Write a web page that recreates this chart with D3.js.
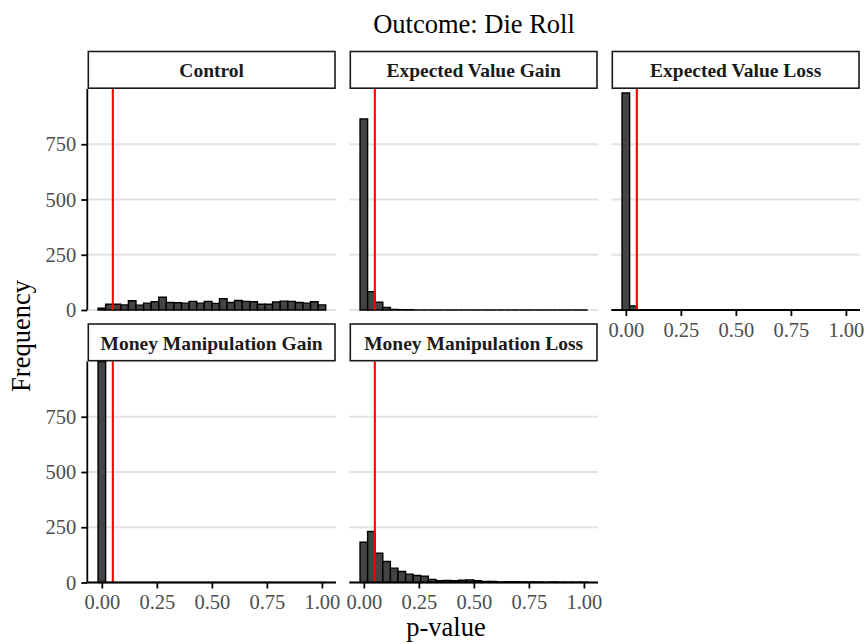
<!DOCTYPE html>
<html>
<head>
<meta charset="utf-8">
<script src="https://cdn.jsdelivr.net/npm/d3@7"></script>
<style>
  html, body { margin: 0; padding: 0; background: #ffffff; }
  svg { display: block; }
  text { font-family: "Liberation Serif", "Times New Roman", serif; }
</style>
</head>
<body>
<svg id="chart" width="868" height="644"></svg>
<script>
// Histogram of simulated p-values, one facet per treatment arm.
const chartTitle = "Outcome: Die Roll";
const xTitle = "p-value";
const yTitle = "Frequency";

const panelNames = [
  "Control",
  "Expected Value Gain",
  "Expected Value Loss",
  "Money Manipulation Gain",
  "Money Manipulation Loss"
];

// 30 bins of width 1/29, centred on k/29 (k = 0..29)
const binCount = 30;
const binWidth = 1 / 29;
const binCenters = d3.range(binCount).map(k => k * binWidth);

// Counts per bin for each facet
const controlCounts = [8, 26, 26, 23, 42, 22, 31, 37, 58, 34, 33, 31, 39, 31, 39, 30, 51, 34, 43, 39, 37, 26, 26, 36, 40, 39, 34, 31, 37, 23];
const evGainCounts  = [865, 83, 35, 12, 3, 1, 1, 0, 0, 0, 0, 0, 0, 0, 0, 0, 0, 0, 0, 0, 0, 0, 0, 0, 0, 0, 0, 0, 0, 0];
const evLossCounts  = [982, 18, 0, 0, 0, 0, 0, 0, 0, 0, 0, 0, 0, 0, 0, 0, 0, 0, 0, 0, 0, 0, 0, 0, 0, 0, 0, 0, 0, 0];
const mmGainCounts  = [1000, 0, 0, 0, 0, 0, 0, 0, 0, 0, 0, 0, 0, 0, 0, 0, 0, 0, 0, 0, 0, 0, 0, 0, 0, 0, 0, 0, 0, 0];
const mmLossCounts  = [182, 231, 133, 95, 65, 50, 38, 32, 29, 14, 8, 9, 8, 10, 12, 8, 5, 5, 3, 4, 4, 3, 2, 2, 1, 3, 1, 1, 1, 1];

const panelCounts = [controlCounts, evGainCounts, evLossCounts, mmGainCounts, mmLossCounts];

const threshold = 0.05;

const yTicks = [0, 250, 500, 750];
const yTickLabels = ["0", "250", "500", "750"];
const xTicks = [0, 0.25, 0.5, 0.75, 1];
const xTickLabels = ["0.00", "0.25", "0.50", "0.75", "1.00"];

// ---- layout ----
const ncol = 3;
const colLeft = [87.3, 349.3, 611.3];
const panelW = 248.7;
const rowTop = [89, 361.5];
const panelH = 221;
const stripH = 37.5;

const xDomain = [-0.066, 1.064];
const yDomain = [0, 1000];

const svg = d3.select("#chart");

const defs = svg.append("defs");

panelNames.forEach((name, i) => {
  const col = i % ncol;
  const row = Math.floor(i / ncol);
  const x0 = colLeft[col];
  const y0 = rowTop[row];
  const counts = panelCounts[i];

  const x = d3.scaleLinear().domain(xDomain).range([x0, x0 + panelW]);
  const y = d3.scaleLinear().domain(yDomain).range([y0 + panelH, y0]);

  const clipId = "clip" + i;
  defs.append("clipPath").attr("id", clipId)
    .append("rect")
    .attr("x", x0).attr("y", y0 - 1)
    .attr("width", panelW).attr("height", panelH + 2);

  const g = svg.append("g");

  // horizontal grid lines
  g.append("g")
    .selectAll("line")
    .data(yTicks)
    .join("line")
    .attr("x1", x0).attr("x2", x0 + panelW)
    .attr("y1", d => y(d)).attr("y2", d => y(d))
    .attr("stroke", "#e3e3e3")
    .attr("stroke-width", 1.8);

  // bars (paths so that empty bins still show their outline)
  const bins = binCenters.map((c, k) => ({ c, n: counts[k] }));
  g.append("g")
    .attr("clip-path", `url(#${clipId})`)
    .selectAll("path")
    .data(bins)
    .join("path")
    .attr("d", d => {
      const a = x(d.c - binWidth / 2), b = x(d.c + binWidth / 2);
      const base = y(0), top = y(d.n);
      return `M${a},${base}V${top}H${b}V${base}Z`;
    })
    .attr("fill", "#444444")
    .attr("stroke", "#000000")
    .attr("stroke-width", 1.4);

  // significance threshold
  g.append("line")
    .attr("x1", x(threshold)).attr("x2", x(threshold))
    .attr("y1", y0).attr("y2", y0 + panelH)
    .attr("stroke", "#ff0000")
    .attr("stroke-width", 2.1);

  // strip
  g.append("rect")
    .attr("x", x0 + 1).attr("y", y0 - stripH)
    .attr("width", panelW - 2).attr("height", stripH - 0.8)
    .attr("fill", "#ffffff")
    .attr("stroke", "#1a1a1a")
    .attr("stroke-width", 1.6);
  g.append("text")
    .attr("x", x0 + panelW / 2)
    .attr("y", y0 - stripH / 2 + 6.8)
    .attr("text-anchor", "middle")
    .attr("font-weight", "bold")
    .attr("font-size", 19.5)
    .attr("fill", "#1a1a1a")
    .text(name);

  // y axis on the first column
  if (col === 0) {
    const ya = g.append("g").attr("transform", `translate(${x0},0)`)
      .call(d3.axisLeft(y).tickValues(yTicks).tickFormat((d, k) => yTickLabels[k]).tickSize(6).tickPadding(5));
    ya.select(".domain").attr("stroke", "#000").attr("stroke-width", 1.8)
      .attr("d", `M0,${y0}V${y0 + panelH}`);
    ya.selectAll(".tick line").attr("stroke", "#000").attr("stroke-width", 1.8);
    ya.selectAll(".tick text")
      .attr("font-size", 20.5).attr("fill", "#4d4d4d");
  }

  // x axis where no panel sits below
  const hasBelow = (i + ncol) < panelNames.length;
  if (!hasBelow) {
    const xa = g.append("g").attr("transform", `translate(0,${y0 + panelH})`)
      .call(d3.axisBottom(x).tickValues(xTicks).tickFormat((d, k) => xTickLabels[k]).tickSize(6).tickPadding(6));
    xa.select(".domain").attr("stroke", "#000").attr("stroke-width", 1.8)
      .attr("d", `M${x0},0H${x0 + panelW}`);
    xa.selectAll(".tick line").attr("stroke", "#000").attr("stroke-width", 1.8);
    xa.selectAll(".tick text")
      .attr("font-size", 20.5).attr("fill", "#4d4d4d");
  }
});

// titles
svg.append("text")
  .attr("x", 474).attr("y", 33)
  .attr("text-anchor", "middle")
  .attr("font-size", 26.5)
  .attr("fill", "#000")
  .text(chartTitle);

svg.append("text")
  .attr("x", 446).attr("y", 636)
  .attr("text-anchor", "middle")
  .attr("font-size", 26.5)
  .attr("fill", "#000")
  .text(xTitle);

svg.append("text")
  .attr("transform", "translate(30,336) rotate(-90)")
  .attr("text-anchor", "middle")
  .attr("font-size", 26.5)
  .attr("fill", "#000")
  .text(yTitle);
</script>
</body>
</html>
